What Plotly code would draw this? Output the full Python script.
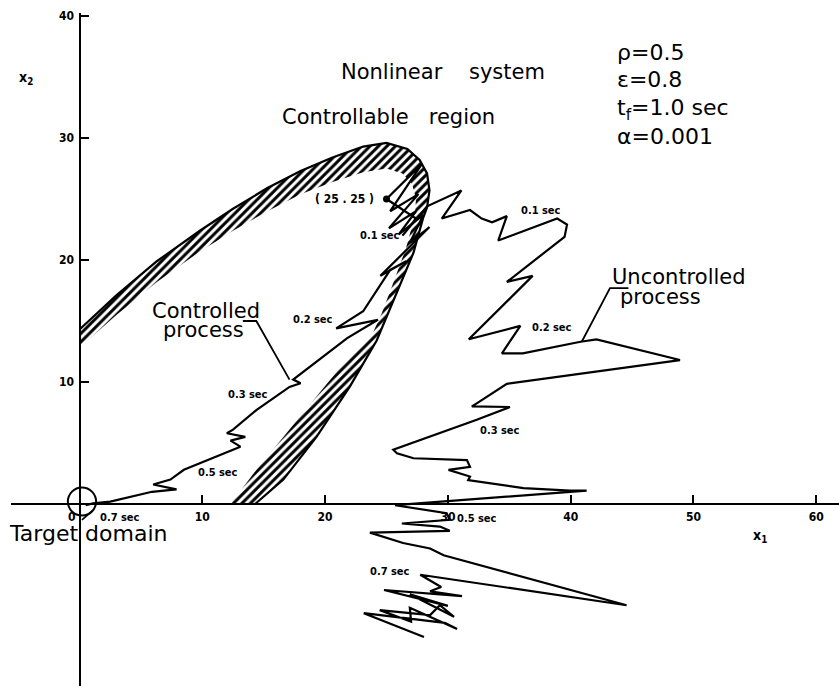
import plotly.graph_objects as go

# ---------------------------------------------------------------------------
# Data (phase plane x1 - x2)
# ---------------------------------------------------------------------------
# Boundary of the controllable region (solid edge of the hatched strip)
boundary_x = [0.0, 3.0, 6.3, 9.8, 12.5, 15.3, 18.0, 20.6, 23.1, 25.0, 26.7, 27.7,
              28.3, 28.5, 28.3, 28.0, 27.2, 25.9, 24.2, 22.0, 19.3, 16.6, 14.3]
boundary_y = [14.3, 17.1, 19.9, 22.4, 24.2, 25.9, 27.3, 28.4, 29.3, 29.6, 29.1, 28.2,
              27.1, 25.7, 24.3, 23.5, 20.6, 17.5, 13.4, 9.6, 5.5, 2.0, 0.0]

# Inner edge of the hatched strip
strip_inner_x = [0.0, 3.0, 6.3, 9.8, 12.5, 15.3, 18.0, 20.6, 23.1, 25.0, 26.3, 27.1,
                 27.4, 27.3, 26.6, 25.5, 24.6, 23.7, 21.4, 19.4, 17.9, 16.2, 14.4, 12.3]
strip_inner_y = [12.8, 15.5, 18.2, 20.7, 22.4, 24.0, 25.4, 26.4, 27.2, 27.5, 27.1, 26.2,
                 25.0, 23.6, 21.0, 18.0, 15.6, 13.6, 11.4, 8.9, 7.1, 5.0, 2.8, 0.0]

# Controlled process, starting from (25, 25)
controlled_x = [25.0, 27.9, 25.3, 27.6, 25.2, 27.4, 26.0, 28.0, 26.9, 28.5, 24.5, 26.6,
                25.3, 23.1, 20.9, 24.3, 21.8, 17.4, 18.0, 17.1, 14.4, 12.5, 12.0, 13.5,
                12.3, 13.1, 8.5, 7.4, 6.0, 7.9, 5.9, 2.5, 1.1, 0.5]
controlled_y = [25.0, 27.9, 24.0, 25.4, 22.6, 24.0, 22.1, 23.7, 21.4, 22.7, 18.7, 19.9,
                19.2, 15.8, 14.4, 15.1, 13.6, 10.2, 9.9, 9.6, 7.7, 6.1, 5.8, 5.5,
                5.2, 4.7, 2.8, 2.0, 1.6, 1.2, 1.0, 0.2, 0.05, -0.1]

# Uncontrolled process, starting from (25, 25)
uncontrolled_x = [25.0, 27.4, 26.3, 28.3, 31.1, 29.5, 31.8, 32.75, 33.6, 34.8, 34.1, 38.9,
                  39.7, 39.5, 34.8, 36.9, 31.7, 35.9, 34.4, 36.1, 40.8, 42.1, 48.9, 34.8,
                  32.35, 31.95, 35.05, 32.35, 25.55, 25.85, 27.2, 31.55, 31.8, 30.05, 31.8,
                  31.65, 36.15, 39.95, 41.3, 29.75, 25.7, 29.9, 30.15, 26.25, 29.35, 30.15,
                  23.65, 26.35, 28.55, 29.65, 44.55, 27.75, 29.45, 28.55, 31.15, 24.8,
                  30.0, 26.9, 30.5, 29.35, 28.55, 24.45, 27.0, 26.9, 30.75, 29.75, 23.15,
                  28.05]
uncontrolled_y = [25.0, 23.4, 22.0, 24.4, 25.7, 23.4, 24.1, 23.4, 23.1, 23.6, 21.6, 23.4,
                  22.9, 21.9, 18.2, 18.7, 13.5, 14.6, 12.35, 12.35, 13.3, 13.5, 11.8, 9.85,
                  8.25, 8.0, 7.95, 6.9, 4.45, 4.15, 3.75, 3.6, 3.05, 2.8, 2.25,
                  1.95, 1.3, 1.1, 1.1, 0.2, -0.1, -0.75, -1.3, -1.6, -1.85, -2.2,
                  -2.35, -3.2, -3.65, -4.2, -8.3, -5.8, -6.8, -7.15, -7.55, -7.05,
                  -8.35, -7.4, -9.25, -8.3, -9.1, -8.7, -9.65, -8.5, -10.25, -9.75, -8.95,
                  -10.9]

start_point = (25, 25)
target_center = (0.2, 0.2)
target_radius = 1.15

x_ticks = [10, 20, 30, 40, 50, 60]
y_ticks = [10, 20, 30, 40]

parameters = ["ρ=0.5", "ε=0.8", "t<sub>f</sub>=1.0 sec", "α=0.001"]

# ---------------------------------------------------------------------------
X_RANGE = [-5.58, 61.85]
Y_RANGE = [-14.92, 40.25]

BIG = "DejaVu Sans, Verdana, sans-serif"
SMALL = "DejaVu Sans Condensed, Liberation Sans Narrow, DejaVu Sans, sans-serif"
INK = "#000000"

fig = go.Figure()

# hatched strip along the boundary of the controllable region
fig.add_trace(go.Scatter(
    x=boundary_x + strip_inner_x[::-1],
    y=boundary_y + strip_inner_y[::-1],
    mode="lines", line=dict(width=0, color=INK),
    fill="toself", fillcolor="rgba(0,0,0,0)",
    fillpattern=dict(shape="/", size=6, solidity=0.5, fgcolor=INK, fgopacity=1,
                     bgcolor="white"),
    hoverinfo="skip", showlegend=False))

fig.add_trace(go.Scatter(x=boundary_x, y=boundary_y, mode="lines",
                         line=dict(color=INK, width=2.2), hoverinfo="skip", showlegend=False))

fig.add_trace(go.Scatter(x=controlled_x, y=controlled_y, mode="lines",
                         line=dict(color=INK, width=2.2), name="Controlled process",
                         showlegend=False))

fig.add_trace(go.Scatter(x=uncontrolled_x, y=uncontrolled_y, mode="lines",
                         line=dict(color=INK, width=2.2), name="Uncontrolled process",
                         showlegend=False))

fig.add_trace(go.Scatter(x=[start_point[0]], y=[start_point[1]], mode="markers",
                         marker=dict(color=INK, size=7), showlegend=False))

# target domain around the origin
cx, cy = target_center
fig.add_shape(type="circle", xref="x", yref="y",
              x0=cx - target_radius, x1=cx + target_radius,
              y0=cy - target_radius, y1=cy + target_radius,
              line=dict(color=INK, width=2))

# leader lines for the labels
leaders = [
    ([13.3, 14.4, 17.1], [15.0, 15.0, 10.2]),
    ([44.7, 43.2, 40.9], [17.7, 17.7, 13.3]),
    ([0.2, 1.1], [-1.3, -0.5]),
]
for lx, ly in leaders:
    fig.add_trace(go.Scatter(x=lx, y=ly, mode="lines", line=dict(color=INK, width=1.8),
                             hoverinfo="skip", showlegend=False))

annotations = []


def text(x, y, s, size=21, family=BIG, bold=False, xanchor="center"):
    annotations.append(dict(
        x=x, y=y, xref="x", yref="y", text=f"<b>{s}</b>" if bold else s,
        showarrow=False, xanchor=xanchor, yanchor="middle",
        font=dict(family=family, size=size, color=INK)))


text(29.6, 35.4, "Nonlinear\u00a0\u00a0\u00a0\u00a0system")
text(25.2, 31.7, "Controllable\u00a0\u00a0\u00a0region")
for i, p in enumerate(parameters):
    text(43.6, [37.0, 34.8, 32.3, 30.1][i], p, size=22, xanchor="left")

text(10.3, 15.8, "Controlled")
text(10.1, 14.3, "process")
text(43.2, 18.6, "Uncontrolled", xanchor="left")
text(43.85, 17.0, "process", xanchor="left")
text(0.65, -2.4, "Target domain", size=22)

text(21.6, 25.0, "( 25 . 25 )", size=12, family=SMALL, bold=True)

for (x, y, s) in [(24.5, 22.0, "0.1 sec"), (19.0, 15.1, "0.2 sec"), (13.7, 9.0, "0.3 sec"),
                  (11.25, 2.6, "0.5 sec"), (3.3, -1.07, "0.7 sec"),
                  (37.55, 24.1, "0.1 sec"), (38.5, 14.5, "0.2 sec"), (34.25, 6.0, "0.3 sec"),
                  (32.35, -1.15, "0.5 sec"), (25.25, -5.57, "0.7 sec")]:
    text(x, y, s, size=11, family=SMALL, bold=True)

text(-4.36, 34.9, "x<sub>2</sub>", size=14, family=SMALL, bold=True)
text(55.4, -2.6, "x<sub>1</sub>", size=14, family=SMALL, bold=True)
text(-0.6, -1.07, "0", size=12, family=SMALL, bold=True)

x_axis_pos = (0 - Y_RANGE[0]) / (Y_RANGE[1] - Y_RANGE[0])
y_axis_pos = (0 - X_RANGE[0]) / (X_RANGE[1] - X_RANGE[0])

tickfont = dict(family=SMALL, size=12, color=INK, weight="bold")

fig.update_layout(
    width=839, height=686,
    margin=dict(l=11, r=0, t=13, b=0),
    paper_bgcolor="white", plot_bgcolor="white",
    showlegend=False,
    annotations=annotations,
    xaxis=dict(range=X_RANGE, showgrid=False, zeroline=False,
               showline=True, linecolor=INK, linewidth=2,
               anchor="free", position=x_axis_pos,
               ticks="inside", ticklen=8, tickwidth=2, tickcolor=INK,
               tickvals=x_ticks, ticktext=[str(v) for v in x_ticks],
               tickfont=tickfont, ticklabelstandoff=2),
    yaxis=dict(range=Y_RANGE, showgrid=False, zeroline=False,
               showline=True, linecolor=INK, linewidth=2,
               anchor="free", position=y_axis_pos,
               ticks="inside", ticklen=8, tickwidth=2, tickcolor=INK,
               tickvals=y_ticks, ticktext=[str(v) for v in y_ticks],
               tickfont=tickfont, ticklabelstandoff=2),
)

fig.write_html("out.html")
